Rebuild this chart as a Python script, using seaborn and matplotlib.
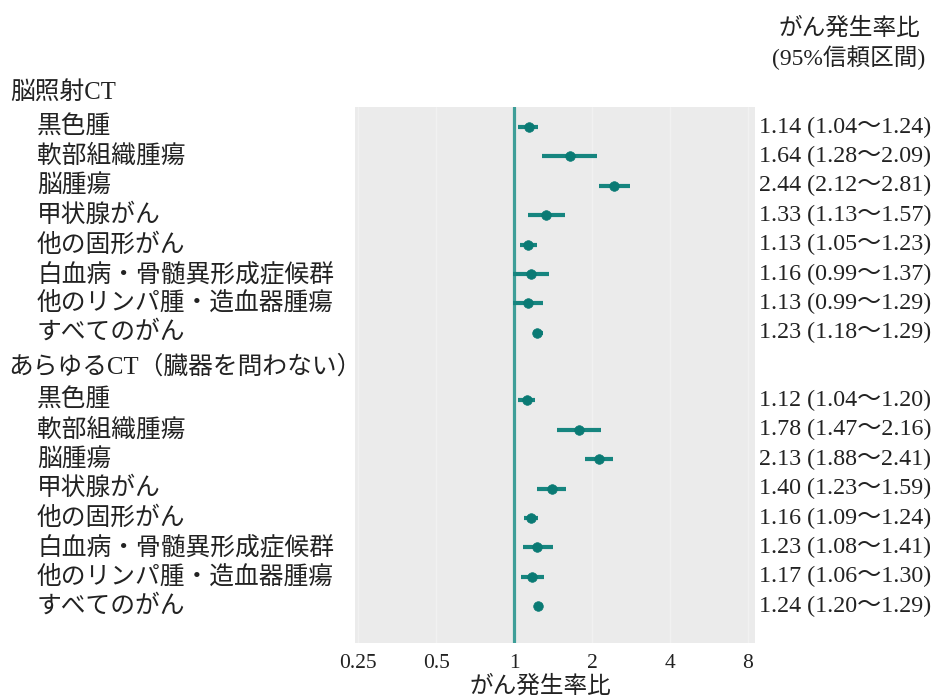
import numpy as np
import pandas as pd
import matplotlib
matplotlib.use("Agg")
import matplotlib.pyplot as plt
import matplotlib.transforms as mtransforms
import seaborn as sns

# ---- data ----
group_titles = ["脳照射CT", "あらゆるCT（臓器を問わない）"]
categories = ["黒色腫", "軟部組織腫瘍", "脳腫瘍", "甲状腺がん", "他の固形がん",
              "白血病・骨髄異形成症候群", "他のリンパ腫・造血器腫瘍", "すべてのがん"]
rr_brain = [1.14, 1.64, 2.44, 1.33, 1.13, 1.16, 1.13, 1.23]
lo_brain = [1.04, 1.28, 2.12, 1.13, 1.05, 0.99, 0.99, 1.18]
hi_brain = [1.24, 2.09, 2.81, 1.57, 1.23, 1.37, 1.29, 1.29]
rr_any = [1.12, 1.78, 2.13, 1.40, 1.16, 1.23, 1.17, 1.24]
lo_any = [1.04, 1.47, 1.88, 1.23, 1.09, 1.08, 1.06, 1.20]
hi_any = [1.20, 2.16, 2.41, 1.59, 1.24, 1.41, 1.30, 1.29]
x_ticks = [0.25, 0.5, 1, 2, 4, 8]
x_ticklabels = ["0.25", "0.5", "1", "2", "4", "8"]
x_label = "がん発生率比"
col_title = "がん発生率比\n(95%信頼区間)"

# ---- layout (row positions) ----
n = len(categories)
y_g1 = np.arange(n, dtype=float)
y_g2 = np.arange(n, dtype=float) + 9.3
y_h1 = -1.18
y_h2 = 8.15

df = pd.DataFrame({
    "category": categories * 2,
    "rr": rr_brain + rr_any,
    "lo": lo_brain + lo_any,
    "hi": hi_brain + hi_any,
    "y": np.concatenate([y_g1, y_g2]),
})

sns.set_theme(style="white")
JP = ["Liberation Serif", "Noto Sans CJK JP"]
plt.rcParams["font.family"] = JP

W, H = 938, 699
fig = plt.figure(figsize=(W / 100, H / 100), dpi=100)
ax = fig.add_axes([355 / W, 1 - 643 / H, 400 / W, 536 / H])
ax.set_facecolor("#EBEBEB")
for s in ax.spines.values():
    s.set_visible(False)

ax.set_xscale("log", base=2)
ax.set_xlim(2 ** -2.04, 2 ** 3.09)
ax.set_ylim(17.55, -0.68)

for t in x_ticks:
    ax.axvline(t, color="#F1F1F1", lw=1.0, zorder=0)
ax.axvline(1, color="#3E9E98", lw=2.3, zorder=1)

ax.hlines(df["y"], df["lo"], df["hi"], color="#16857F", lw=3.0, zorder=2)
sns.scatterplot(data=df, x="rr", y="y", ax=ax, marker="o", s=48,
                color="#0A7A74", edgecolor="#0A7A74", linewidth=0.5, zorder=3,
                legend=False)

ax.set_xticks(x_ticks)
ax.set_xticklabels(x_ticklabels, fontsize=15.5, family=JP, color="#222222")
ax.minorticks_off()
ax.tick_params(axis="x", length=0, pad=8)
ax.set_yticks([])
ax.set_xlabel("")
ax.set_ylabel("")

# left labels
trL = mtransforms.blended_transform_factory(fig.transFigure, ax.transData)
fs_jp = 17.8
ax.text(10 / W, y_h1, group_titles[0], transform=trL, ha="left", va="center",
        fontsize=fs_jp, family=JP, color="#222222", clip_on=False)
ax.text(8 / W, y_h2, group_titles[1], transform=trL, ha="left", va="center",
        fontsize=fs_jp, family=JP, color="#222222", clip_on=False)
for i, row in df.iterrows():
    ax.text(37 / W, row["y"], row["category"], transform=trL, ha="left",
            va="center", fontsize=fs_jp, family=JP, color="#222222", clip_on=False)
    lab = f"{row['rr']:.2f} ({row['lo']:.2f}～{row['hi']:.2f})"
    ax.text(759 / W, row["y"], lab, transform=trL, ha="left", va="center",
            fontsize=17.3, family=JP, color="#222222", clip_on=False)

fig.text(849 / W, 1 - 17 / H, col_title, ha="center", va="top", fontsize=17,
         family=JP, color="#222222", linespacing=1.3)
fig.text(540 / W, 1 - 675 / H, x_label, ha="center", va="top", fontsize=17,
         family=JP, color="#222222")

fig.savefig("out.png", dpi=100, facecolor="white")
